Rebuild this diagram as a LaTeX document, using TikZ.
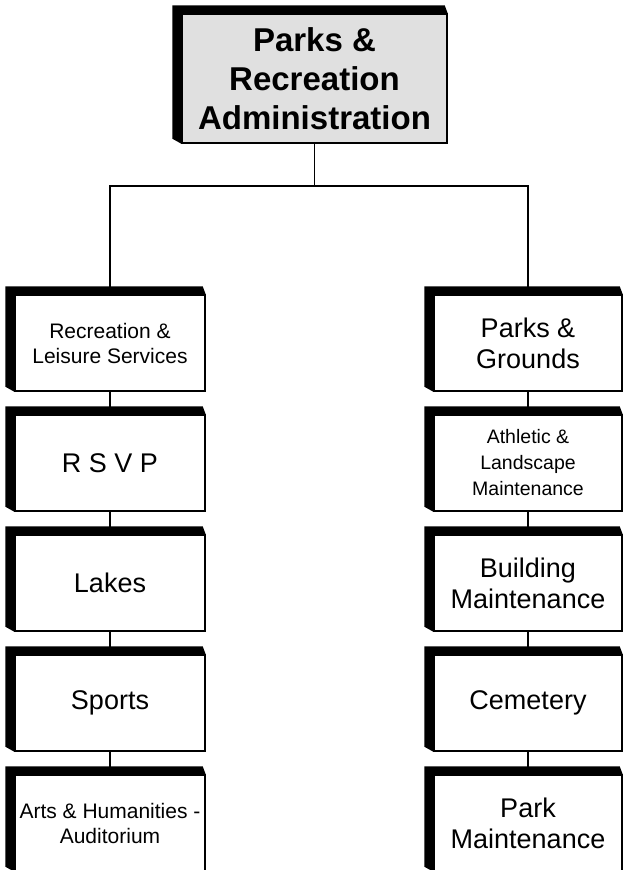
\documentclass[tikz,border=0pt]{standalone}
\usepackage{fontspec}
\setmainfont{Liberation Sans}

\tikzstyle{unit} = [rectangle, draw, fill=white, line width=1.4pt, align=center, inner sep=0pt, minimum width=190pt, minimum height=96pt]
\tikzstyle{big} = [font=\fontsize{27}{31}\selectfont]
\tikzstyle{small} = [font=\fontsize{21}{25}\selectfont]
\tikzstyle{three} = [font=\fontsize{19.5}{26}\selectfont]
\tikzstyle{link} = [line width=1.4pt]

% dark top and left sides of a box
\newcommand{\slab}[1]{
	\fill (#1.north east) -- ([shift={(-3,-8)}]#1.north east) -- ([shift={(-9,-8)}]#1.north west)
		-- ([shift={(-9,-5)}]#1.south west) -- (#1.south west) -- (#1.north west) -- cycle;
}

\begin{document}
\begin{tikzpicture}[x=1pt, y=-1pt]
		\useasboundingbox (0,0) rectangle (627,870);
		%\draw[help lines, step=10] (0,0) grid (627,870);
		
		\node[unit, fill=black!12, minimum width=265pt, minimum height=129pt, font=\bfseries\fontsize{33}{39}\selectfont] (admin) at (314.5, 78.5) {Parks \&\\Recreation\\Administration};
		
		\foreach \n/\s/\f in {0/{Recreation \&\\Leisure Services}/small,
			1/{R S V P}/big,
			2/{Lakes}/big,
			3/{Sports}/big,
			4/{Arts \& Humanities -\\Auditorium}/small}
		\node[unit, \f] (l\n) at (110, 343 + 120 * \n) {\s};
		
		\foreach \n/\s/\f in {0/{Parks \&\\Grounds}/big,
			1/{Athletic \&\\Landscape\\Maintenance}/three,
			2/{Building\\Maintenance}/big,
			3/{Cemetery}/big,
			4/{Park\\Maintenance}/big}
		\node[unit, \f, minimum width=188pt] (r\n) at (528, 343 + 120 * \n) {\s};
		
		\coordinate (fork) at (314.5, 186);
		\draw[link] (admin.south) -- (fork);
		\draw[link] (l0.north) |- (fork) -| (r0.north);
		
		\foreach \n in {1,...,4} {
			\pgfmathtruncatemacro\prev{\n - 1}
			\draw[link] (l\prev.south) -- (l\n.north);
			\draw[link] (r\prev.south) -- (r\n.north);
		}
		
		\foreach \b in {admin, l0, l1, l2, l3, l4, r0, r1, r2, r3, r4}
		{\slab{\b}}
		
	\end{tikzpicture}
\end{document}
